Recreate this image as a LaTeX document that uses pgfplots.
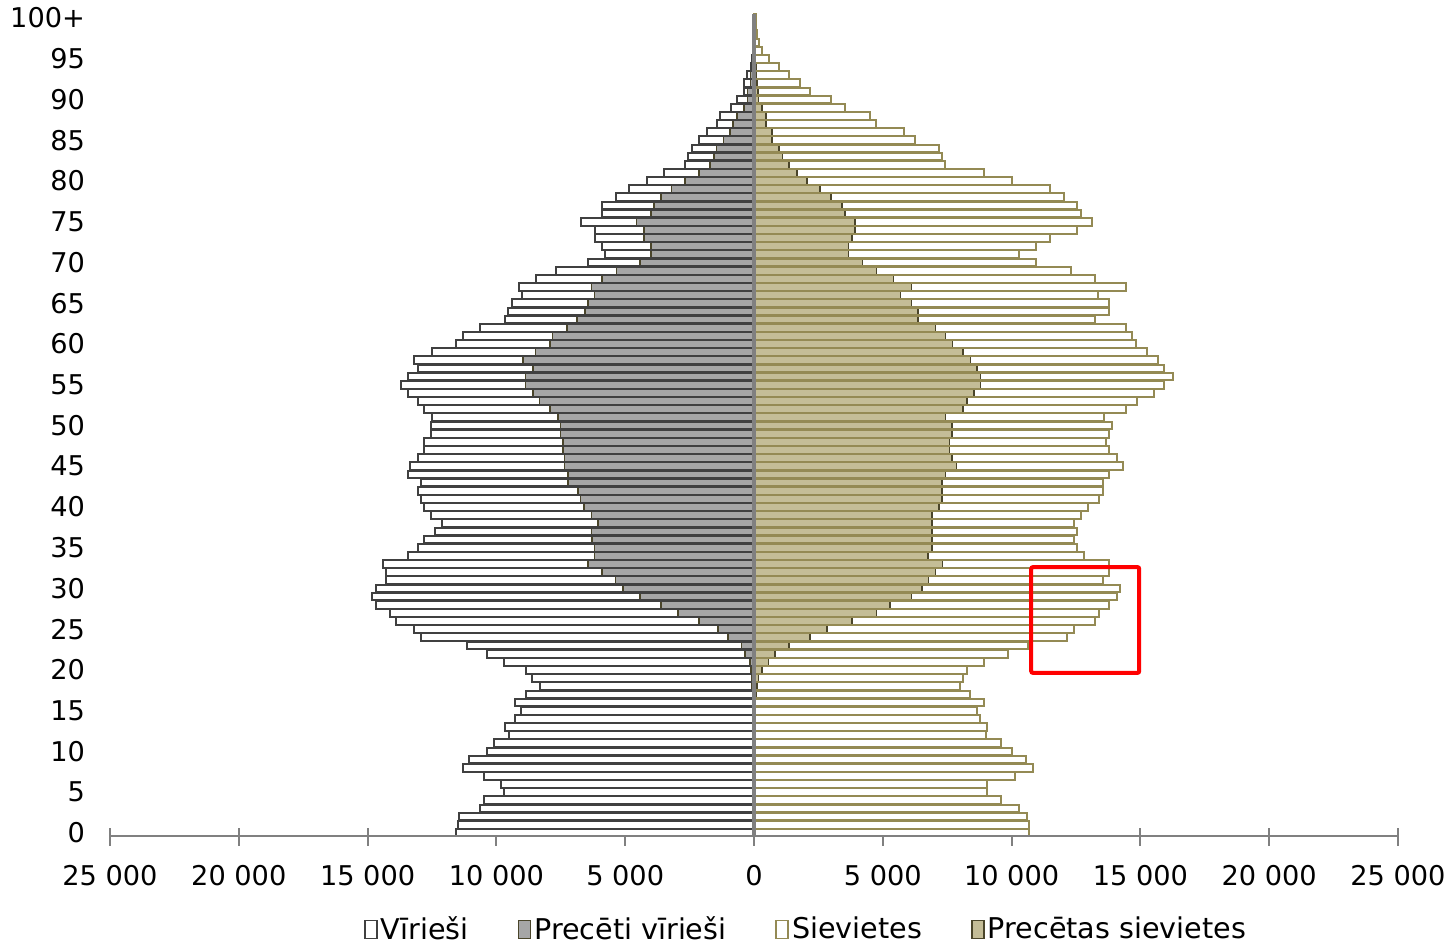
\documentclass[border=0pt]{standalone}
\usepackage{pgfplots}
\usepackage{pgfplotstable}
\usepackage{fontspec}
\setmainfont{DejaVu Sans}
\pgfplotsset{compat=1.18}
\definecolor{mline}{HTML}{404040}
\definecolor{mfill}{HTML}{A6A6A6}
\definecolor{wline}{HTML}{948A54}
\definecolor{wfill}{HTML}{C4BD97}
\definecolor{marr}{HTML}{4A452A}
\definecolor{axgray}{HTML}{808080}
\pgfplotstableread{
age mt mm wt wm
0 11570 0 10670 0
1 11510 0 10670 0
2 11440 0 10600 0
3 10630 0 10280 0
4 10500 0 9600 0
5 9690 0 9050 0
6 9810 0 9050 0
7 10500 0 10150 0
8 11310 0 10830 0
9 11050 0 10540 0
10 10360 0 10020 0
11 10080 0 9600 0
12 9530 0 8990 0
13 9660 0 9050 0
14 9260 0 8790 0
15 9060 0 8660 0
16 9260 40 8920 40
17 8870 60 8400 80
18 8320 80 7990 120
19 8610 100 8120 170
20 8870 120 8270 300
21 9690 160 8920 560
22 10360 350 9870 820
23 11150 480 10650 1360
24 12930 1000 12160 2180
25 13190 1390 12420 2830
26 13880 2130 13240 3800
27 14130 2940 13390 4750
28 14680 3620 13780 5290
29 14810 4430 14080 6110
30 14680 5080 14210 6520
31 14290 5370 13530 6780
32 14290 5900 13780 7040
33 14420 6450 13780 7320
34 13450 6190 12810 6760
35 13060 6190 12550 6910
36 12800 6290 12420 6910
37 12370 6310 12550 6910
38 12110 6060 12420 6910
39 12540 6310 12680 6910
40 12800 6600 12980 7170
41 12930 6740 13390 7300
42 13060 6830 13530 7300
43 12930 7220 13530 7300
44 13450 7220 13780 7430
45 13340 7350 14340 7860
46 13060 7350 14080 7690
47 12800 7420 13780 7590
48 12800 7420 13650 7590
49 12540 7510 13780 7690
50 12540 7510 13910 7690
51 12500 7610 13590 7430
52 12800 7910 14430 8120
53 13060 8320 14860 8270
54 13450 8590 15530 8530
55 13700 8870 15920 8790
56 13450 8870 16250 8790
57 13060 8590 15920 8660
58 13190 8970 15670 8400
59 12500 8480 15250 8120
60 11570 7910 14820 7710
61 11310 7830 14690 7440
62 10630 7260 14430 7040
63 9660 6860 13240 6370
64 9560 6570 13780 6370
65 9400 6450 13780 6110
66 9010 6190 13370 5690
67 9130 6310 14430 6110
68 8480 5900 13240 5420
69 7680 5340 12290 4750
70 6450 4430 10930 4210
71 5770 4010 10280 3670
72 5900 4010 10930 3670
73 6190 4280 11490 3800
74 6190 4280 12550 3930
75 6730 4560 13110 3930
76 5900 4010 12680 3540
77 5900 3880 12550 3410
78 5370 3620 12030 3000
79 4850 3200 11490 2570
80 4170 2680 10000 2050
81 3500 2130 8920 1660
82 2680 1710 7430 1370
83 2560 1560 7300 1100
84 2400 1450 7170 970
85 2130 1190 6240 710
86 1840 930 5840 710
87 1450 810 4750 460
88 1320 670 4490 460
89 910 380 3540 320
90 650 260 3000 170
91 390 260 2180 160
92 390 130 1790 120
93 260 130 1370 100
94 130 60 970 80
95 80 40 580 60
96 50 20 300 40
97 35 10 190 20
98 20 5 120 10
99 10 5 80 10
100 10 5 80 5
}\data
\begin{document}
\begin{tikzpicture}
\begin{axis}[
  at={(55pt,57.5pt)}, anchor=south west,
  width=644pt, height=411.5pt, scale only axis,
  font=\fontsize{13.6}{16}\selectfont,
  xbar, bar width=0.95,
  xmin=-25000, xmax=25000, ymin=-0.5, ymax=100.5,
  scaled x ticks=false,
  axis line style={draw=none},
  xtick={-25000,-20000,...,25000},
  xticklabels={25 000,20 000,15 000,10 000,5 000,0,5 000,10 000,15 000,20 000,25 000},
  ytick={0,5,...,100},
  yticklabels={0,5,10,15,20,25,30,35,40,45,50,55,60,65,70,75,80,85,90,95,100+},
  xtick pos=left, ytick pos=left,
  tick align=center,
  x tick style={draw=axgray, line width=1pt},
  major tick length=9pt,
  y tick style={draw=none},
  yticklabel style={xshift=-4.5pt},
  xticklabel style={yshift=-6pt},
  legend columns=4,
  legend style={draw=none, fill=none, at={(0.5408,-0.1125)}, anchor=center,
    font=\fontsize{14.3}{16}\selectfont,
    /tikz/every even column/.append style={column sep=23pt},
    nodes={inner sep=1.5pt}},
  legend image code/.code={\draw[#1, line width=0.9pt] (0pt,-4.5pt) rectangle (6pt,4.5pt);},
]
\addplot[bar shift=0pt, draw=mline, fill=white, line width=1pt] table[x expr=-\thisrow{mt}, y=age] {\data};
\addlegendentry{Vīrieši}
\addplot[bar shift=0pt, draw=marr, fill=mfill, line width=0.8pt] table[x expr=-\thisrow{mm}, y=age] {\data};
\addlegendentry{Precēti vīrieši}
\addplot[bar shift=0pt, draw=wline, fill=white, line width=1pt] table[x=wt, y=age] {\data};
\addlegendentry{Sievietes}
\addplot[bar shift=0pt, draw=marr, fill=wfill, line width=0.8pt] table[x=wm, y=age] {\data};
\addlegendentry{Precētas sievietes}
\addplot[forget plot, bar shift=0pt, draw=mline, fill=none, line width=1pt] table[x expr=-\thisrow{mt}, y=age] {\data};
\addplot[forget plot, bar shift=0pt, draw=wline, fill=none, line width=1pt] table[x=wt, y=age] {\data};
\draw[axgray, line width=1.6pt] (axis cs:0,-0.5) -- (axis cs:0,100.5);
\draw[axgray, line width=1.6pt] (rel axis cs:0,0) -- (rel axis cs:1,0);
\draw[red, line width=2pt, rounded corners=1pt] (axis cs:10760,19.63) rectangle (axis cs:14955,32.63);
\end{axis}
\pgfresetboundingbox
\path[use as bounding box] (0,0) rectangle (728pt,476pt);
\end{tikzpicture}
\end{document}
